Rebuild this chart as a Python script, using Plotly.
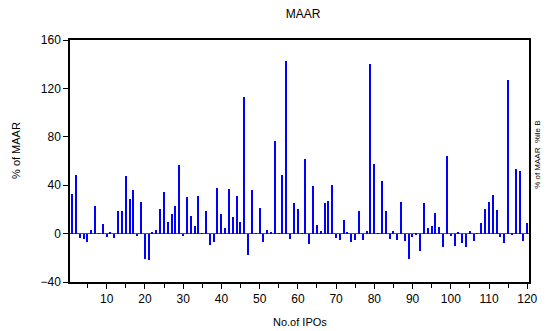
import plotly.graph_objects as go

ipo_no = list(range(1, 121))
maar = [
    32.4, 48.3, -4.0, -4.8, -7.3, 2.9, 23.0, 0.3, 7.8, -3.0,
    1.0, -3.5, 18.6, 18.6, 47.5, 29.0, 36.0, -2.0, 25.8, -21.0,
    -21.5, 1.2, 2.6, 20.0, 34.5, 9.2, 15.8, 22.7, 56.3, -2.0,
    30.0, 14.5, 6.2, 30.9, 0.3, 18.9, -9.2, -7.0, 37.3, 16.4,
    4.3, 36.7, 13.9, 30.9, 9.5, 112.5, -17.5, 35.7, 0.5, 21.0,
    -6.7, 2.9, 1.2, 76.4, 0.5, 48.3, 142.4, -4.5, 25.2, 20.2,
    0.3, 61.3, -9.0, 39.0, 6.7, 2.0, 25.4, 26.8, 40.3, -3.5,
    -5.4, 11.4, 1.2, -6.7, -5.6, 18.9, -5.0, 2.0, 140.5, 57.7,
    0.3, 43.4, 18.9, -4.8, 1.8, -5.6, 26.0, -6.5, -21.0, -3.0,
    -1.0, -14.2, 25.2, 4.8, 6.2, 17.0, 5.4, -10.9, 64.0, -1.8,
    -10.0, 0.7, -7.8, -10.9, 2.0, -5.9, 0.3, 9.0, 20.6, 26.0,
    31.6, 19.2, -3.0, -7.8, 127.0, -1.5, 53.5, 51.6, -6.2, 8.5,
]
y_ticks = [-40, 0, 40, 80, 120, 160]
x_ticks = list(range(10, 121, 10))

font_family = "Liberation Sans, Arial, sans-serif"

fig = go.Figure()
fig.add_trace(go.Bar(
    x=ipo_no, y=maar, width=0.32,
    marker=dict(color="#0000ff", line=dict(width=0)),
    showlegend=False,
))

fig.update_layout(
    width=550, height=331,
    margin=dict(l=70, r=13, t=40, b=49),
    plot_bgcolor="white", paper_bgcolor="white",
    font=dict(family=font_family, size=11, color="#000"),
    title=dict(text="MAAR", x=303 / 550, xanchor="center", y=1 - 14 / 331, yanchor="middle",
               font=dict(size=12, family=font_family)),
    bargap=0,
    xaxis=dict(
        range=[0.4, 120.45], tickvals=x_ticks, ticks="outside", ticklen=5, tickwidth=1,
        tickcolor="#000", showline=True, linecolor="#000", linewidth=1.5, mirror=True,
        showgrid=False, zeroline=False, tickfont=dict(size=12),
        minor=dict(tickvals=list(range(5, 121, 10)), ticks="outside", ticklen=4, tickcolor="#000"),
    ),
    yaxis=dict(
        range=[-40, 160], tickvals=y_ticks, ticks="outside", ticklen=5, tickwidth=1,
        tickcolor="#000", showline=True, linecolor="#000", linewidth=1.5, mirror=True,
        showgrid=False, zeroline=True, zerolinecolor="#555", zerolinewidth=1.2,
        tickfont=dict(size=12),
    ),
    annotations=[
        dict(text="% of MAAR", xref="paper", yref="paper", x=-55 / 467, y=(282 - 150) / 242,
             xanchor="center", yanchor="middle", textangle=-90, showarrow=False,
             font=dict(size=11, family=font_family)),
        dict(text="No.of IPOs", xref="paper", yref="paper", x=0.5, y=-(322 - 282) / 242,
             xanchor="center", yanchor="middle", showarrow=False,
             font=dict(size=11, family=font_family)),
        dict(text="% of MAAR  %ile B", xref="paper", yref="paper", x=(545 - 70) / 467, y=(282 - 155) / 242,
             xanchor="center", yanchor="middle", textangle=-90, showarrow=False,
             font=dict(size=8, family=font_family)),
    ],
)

fig.write_html("out.html", config={"displayModeBar": False},
               post_script="document.body.style.margin='0';document.body.style.padding='0';")
